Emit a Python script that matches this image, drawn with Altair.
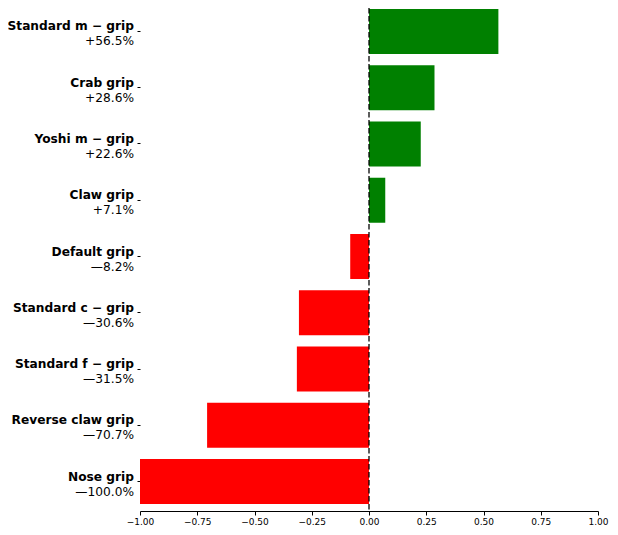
import altair as alt
import pandas as pd

grips = ["Standard m − grip", "Crab grip", "Yoshi m − grip", "Claw grip",
         "Default grip", "Standard c − grip", "Standard f − grip",
         "Reverse claw grip", "Nose grip"]
values = [0.565, 0.286, 0.226, 0.071, -0.082, -0.306, -0.315, -0.707, -1.0]
pct_labels = ["+56.5%", "+28.6%", "+22.6%", "+7.1%", "—8.2%", "—30.6%",
              "—31.5%", "—70.7%", "—100.0%"]
x_ticks = [-1.0, -0.75, -0.5, -0.25, 0.0, 0.25, 0.5, 0.75, 1.0]

df = pd.DataFrame({"grip": grips, "value": values, "pct": pct_labels})
df["color"] = ["#008000" if v > 0 else "#ff0000" for v in values]

FONT = "DejaVu Sans"

y = alt.Y("grip:N", sort=grips,
          scale=alt.Scale(paddingInner=0.2, paddingOuter=0.07, align=0.12),
          axis=alt.Axis(labels=False, title=None, domain=False, ticks=True,
                        tickSize=3, tickColor="black", grid=False))
x = alt.X("value:Q", scale=alt.Scale(domain=[-1, 1], nice=False, zero=False),
          axis=alt.Axis(values=x_ticks, format=".2f", title=None, grid=False,
                        domainColor="black", tickColor="black",
                        labelColor="black", labelFontSize=9, tickSize=4,
                        labelFont=FONT, labelPadding=2, labelFlush=False))

bars = alt.Chart(df).mark_bar().encode(
    x=x, y=y, color=alt.Color("color:N", scale=None))

rule = alt.Chart(pd.DataFrame({"value": [0.0]})).mark_rule(
    color="black", strokeDash=[5.5, 2.5], strokeWidth=1.5, opacity=0.85
).encode(x=alt.X("value:Q"))

names = alt.Chart(df).mark_text(
    align="right", baseline="alphabetic", dy=-1, fontWeight="bold",
    fontSize=12.2, font=FONT, color="black"
).encode(y=alt.Y("grip:N", sort=grips), x=alt.value(-6), text="grip:N")

pcts = alt.Chart(df).mark_text(
    align="right", baseline="alphabetic", dy=14, fontWeight="normal",
    fontSize=12.2, font=FONT, color="black"
).encode(y=alt.Y("grip:N", sort=grips), x=alt.value(-6), text="pct:N")

chart = alt.layer(bars, rule, names, pcts).properties(
    width=458, height=503,
    autosize=alt.AutoSizeParams(type="none"),
    padding={"left": 132, "top": 0, "right": 12, "bottom": 16},
).configure_view(stroke=None)

chart.save("out.html", embed_options={"renderer": "svg", "actions": False})
